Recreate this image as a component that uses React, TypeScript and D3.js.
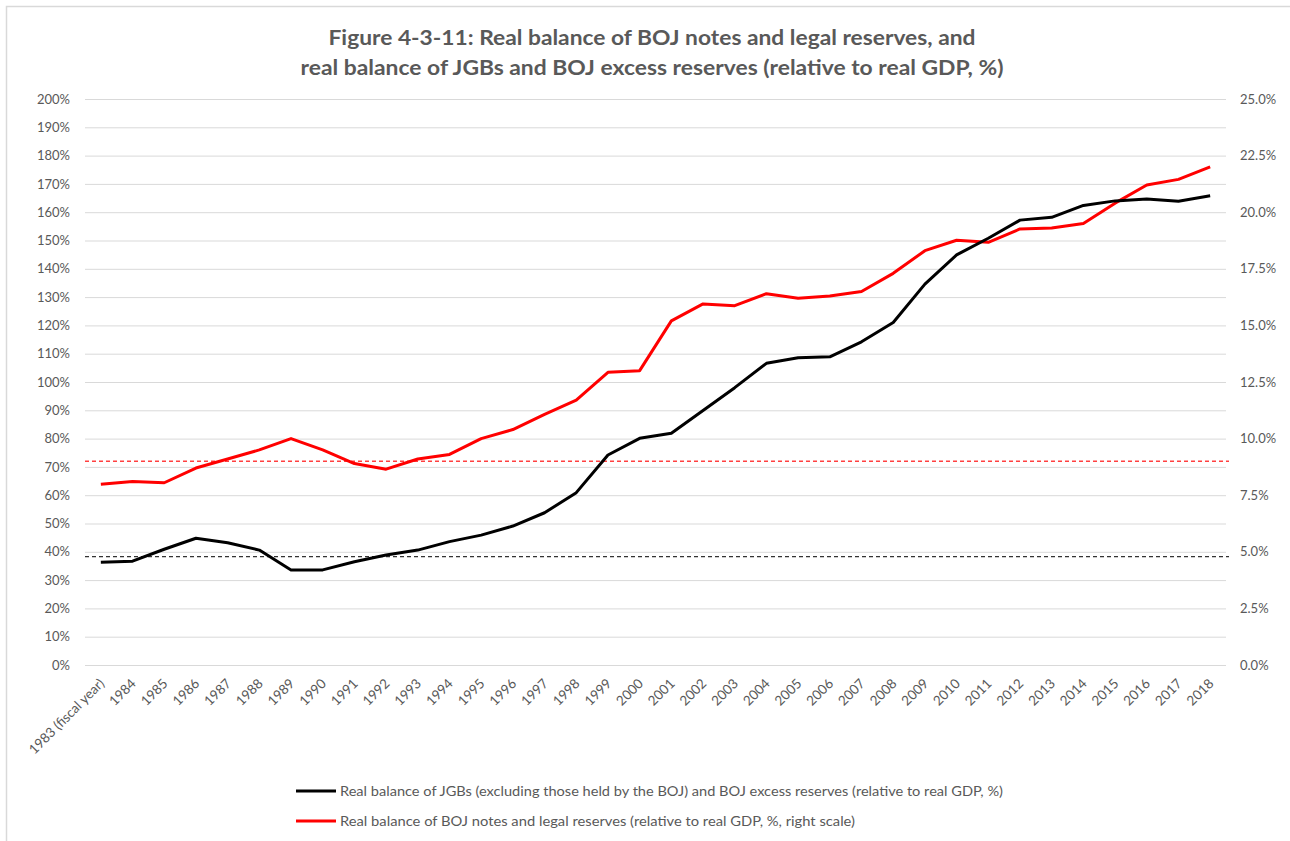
import React, { useRef, useEffect } from "react";
import * as d3 from "d3";

// fiscal years
const years: string[] = [
  "1983 (fiscal year)", "1984", "1985", "1986", "1987", "1988", "1989", "1990", "1991", "1992",
  "1993", "1994", "1995", "1996", "1997", "1998", "1999", "2000", "2001", "2002",
  "2003", "2004", "2005", "2006", "2007", "2008", "2009", "2010", "2011", "2012",
  "2013", "2014", "2015", "2016", "2017", "2018",
];

// JGBs + BOJ excess reserves, % of real GDP (left scale)
const jgbSeries: number[] = [
  36.3, 36.7, 40.9, 44.8, 43.2, 40.6, 33.6, 33.6, 36.5, 38.9,
  40.6, 43.6, 45.9, 49.1, 53.8, 60.9, 74.2, 80.1, 81.9, 89.9,
  98.0, 106.6, 108.6, 108.9, 114.2, 121.0, 134.6, 144.9, 150.8, 157.2,
  158.2, 162.4, 164.0, 164.7, 163.9, 165.8,
];

// BOJ notes + legal reserves, % of real GDP (right scale)
const notesSeries: number[] = [
  7.98, 8.1, 8.05, 8.7, 9.1, 9.5, 10.0, 9.5, 8.9, 8.65,
  9.1, 9.3, 10.0, 10.4, 11.07, 11.7, 12.93, 13.0, 15.2, 15.95,
  15.87, 16.4, 16.2, 16.3, 16.5, 17.3, 18.3, 18.76, 18.67, 19.26,
  19.3, 19.5, 20.4, 21.2, 21.45, 22.0,
];

// dashed reference levels
const jgbRef = 38.3;
const notesRef = 9.0;

const leftTicks: number[] = d3.range(0, 201, 10);
const rightTicks: number[] = d3.range(0, 25.01, 2.5);

const titleLines = [
  "Figure 4-3-11: Real balance of BOJ notes and legal reserves, and",
  "real balance of JGBs and BOJ excess reserves (relative to real GDP, %)",
];
const legendLabels = [
  "Real balance of JGBs (excluding those held by the BOJ) and BOJ excess reserves (relative to real GDP, %)",
  "Real balance of BOJ notes and legal reserves (relative to real GDP, %, right scale)",
];

export default function App() {
  const svgRef = useRef<SVGSVGElement | null>(null);
  const width = 1290;
  const height = 841;

  useEffect(() => {
    if (!svgRef.current) return;
    const svg = d3.select(svgRef.current);
    svg.selectAll("*").remove();

    const font = "Lato, 'Open Sans', sans-serif";
    const textGrey = "#595959";

    const plot = { left: 85, right: 1226, top: 99, bottom: 665 };

    // chart border (Excel chart frame, cut off at right/bottom)
    svg.append("rect")
      .attr("x", 6.5).attr("y", 6.5)
      .attr("width", 1400).attr("height", 1000)
      .attr("fill", "#fff")
      .attr("stroke", "#d9d9d9")
      .attr("stroke-width", 1.5);

    const x = d3.scaleBand<string>().domain(years).range([plot.left, plot.right]).padding(0);
    const xc = (d: string) => (x(d) as number) + x.bandwidth() / 2;
    const yL = d3.scaleLinear().domain([0, 200]).range([plot.bottom, plot.top]);
    const yR = d3.scaleLinear().domain([0, 25]).range([plot.bottom, plot.top]);

    // title
    titleLines.forEach((t, i) => {
      svg.append("text")
        .attr("x", 652)
        .attr("y", 45 + i * 30)
        .attr("text-anchor", "middle")
        .attr("font-family", font)
        .attr("font-size", 20)
        .attr("font-weight", 700)
        .attr("fill", textGrey)
        .attr("textLength", i === 0 ? 647 : 703)
        .attr("lengthAdjust", "spacingAndGlyphs")
        .text(t);
    });

    // horizontal grid
    svg.append("g")
      .call(d3.axisLeft(yL).tickValues(leftTicks).tickSize(-(plot.right - plot.left)).tickFormat(() => ""))
      .attr("transform", `translate(${plot.left},0)`)
      .call(g => g.select(".domain").remove())
      .call(g => g.selectAll(".tick line").attr("stroke", "#d9d9d9").attr("stroke-width", 1));

    // left axis labels
    svg.append("g")
      .attr("transform", `translate(${plot.left},0)`)
      .call(d3.axisLeft(yL).tickValues(leftTicks).tickSize(0).tickPadding(15).tickFormat(d => `${d}%`))
      .call(g => g.select(".domain").remove())
      .call(g => g.selectAll(".tick text")
        .attr("fill", textGrey)
        .attr("font-family", font)
        .attr("font-size", 13));

    // right axis labels
    svg.append("g")
      .attr("transform", `translate(${plot.right},0)`)
      .call(d3.axisRight(yR).tickValues(rightTicks).tickSize(0).tickPadding(14).tickFormat(d => `${(+d).toFixed(1)}%`))
      .call(g => g.select(".domain").remove())
      .call(g => g.selectAll(".tick text")
        .attr("fill", textGrey)
        .attr("font-family", font)
        .attr("font-size", 13));

    // x labels, rotated
    svg.append("g")
      .selectAll("text")
      .data(years)
      .join("text")
      .attr("transform", d => `translate(${xc(d) + 1},${plot.bottom + 16}) rotate(-45)`)
      .attr("text-anchor", "end")
      .attr("dy", "0.35em")
      .attr("fill", textGrey)
      .attr("font-family", font)
      .attr("font-size", 13.5)
      .text(d => d);

    // dashed reference lines
    svg.append("line")
      .attr("x1", plot.left).attr("x2", plot.right + 3)
      .attr("y1", yR(notesRef)).attr("y2", yR(notesRef))
      .attr("stroke", "#ff4040")
      .attr("stroke-width", 1.3)
      .attr("stroke-dasharray", "4,3");
    svg.append("line")
      .attr("x1", plot.left).attr("x2", plot.right + 3)
      .attr("y1", yL(jgbRef)).attr("y2", yL(jgbRef))
      .attr("stroke", "#333")
      .attr("stroke-width", 1.3)
      .attr("stroke-dasharray", "4,3");

    // series lines
    const lineL = d3.line<number>().x((_, i) => xc(years[i])).y(d => yL(d));
    const lineR = d3.line<number>().x((_, i) => xc(years[i])).y(d => yR(d));

    svg.append("path")
      .datum(notesSeries)
      .attr("fill", "none")
      .attr("stroke", "#ff0000")
      .attr("stroke-width", 3)
      .attr("stroke-linejoin", "round")
      .attr("d", lineR);

    svg.append("path")
      .datum(jgbSeries)
      .attr("fill", "none")
      .attr("stroke", "#000")
      .attr("stroke-width", 3)
      .attr("stroke-linejoin", "round")
      .attr("d", lineL);

    // legend
    const legendColors = ["#000", "#ff0000"];
    const legendLens = [663, 515];
    legendLabels.forEach((lab, i) => {
      const ly = 791 + i * 30;
      svg.append("line")
        .attr("x1", 296).attr("x2", 336)
        .attr("y1", ly).attr("y2", ly)
        .attr("stroke", legendColors[i])
        .attr("stroke-width", 3);
      svg.append("text")
        .attr("x", 340)
        .attr("y", ly)
        .attr("dy", "0.35em")
        .attr("fill", textGrey)
        .attr("font-family", font)
        .attr("font-size", 13)
        .attr("textLength", legendLens[i])
        .attr("lengthAdjust", "spacingAndGlyphs")
        .text(lab);
    });
  }, []);

  return (
    <div style={{ position: "absolute", left: 0, top: 0, width, height, overflow: "hidden", background: "#fff" }}>
      <svg ref={svgRef} width={width} height={height} style={{ display: "block" }}></svg>
    </div>
  );
}
